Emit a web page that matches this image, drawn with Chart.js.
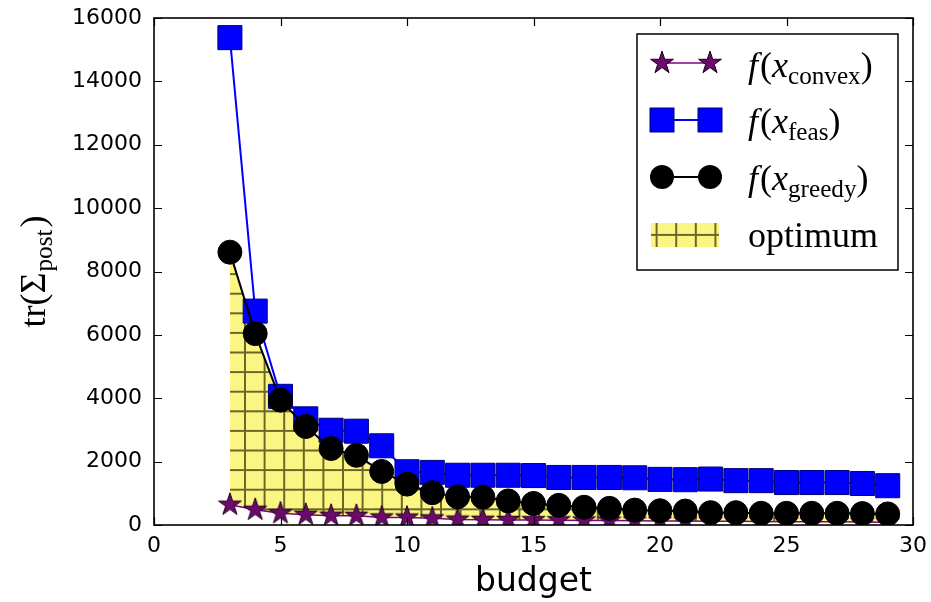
<!DOCTYPE html>
<html><head><meta charset="utf-8">
<script src="https://cdn.jsdelivr.net/npm/chart.js@4/dist/chart.umd.min.js"></script>
<style>html,body{margin:0;padding:0;background:#fff;}#wrap{width:931px;height:602px;}</style>
</head><body><div id="wrap"><canvas id="c" width="931" height="602"></canvas></div>
<script>
// ---- data ----
const budget = [3,4,5,6,7,8,9,10,11,12,13,14,15,16,17,18,19,20,21,22,23,24,25,26,27,28,29];
const convexVals = [640,480,370,325,295,290,240,235,210,170,165,160,155,150,145,140,135,130,125,120,115,110,105,100,100,95,90];
const feasVals = [15380,6750,4060,3350,2990,2960,2500,1680,1660,1570,1570,1570,1560,1500,1500,1500,1490,1440,1430,1450,1400,1400,1340,1340,1340,1310,1240];
const greedyVals = [8610,6040,3940,3110,2415,2200,1690,1290,1020,890,880,760,680,620,560,525,470,450,440,390,390,370,370,370,370,360,350];
const xTicks = [0,5,10,15,20,25,30];
const yTicks = [0,2000,4000,6000,8000,10000,12000,14000,16000];
const legendSubs = ['convex','feas','greedy'];
const optimumLabel = 'optimum';
const xTitle = 'budget';

const canvas = document.getElementById('c');
const ctx0 = canvas.getContext('2d');

function makeStar(R, fill, stroke){
  const s = Math.ceil(2*R+4);
  const c = document.createElement('canvas'); c.width = s; c.height = s;
  const g = c.getContext('2d');
  const cx = s/2, cy = s/2, r = R*0.381966;
  g.beginPath();
  for (let i=0;i<10;i++){
    const a = -Math.PI/2 + i*Math.PI/5;
    const rad = i%2 ? r : R;
    g.lineTo(cx+rad*Math.cos(a), cy+rad*Math.sin(a));
  }
  g.closePath();
  g.fillStyle = fill; g.fill();
  g.lineWidth = 1; g.strokeStyle = stroke; g.stroke();
  return c;
}
const starImg = makeStar(12, '#6c0a6c', '#1a001a');

function makeHatch(){
  const t = document.createElement('canvas'); t.width = 20; t.height = 20;
  const g = t.getContext('2d');
  g.fillStyle = '#fbf583'; g.fillRect(0,0,20,20);
  g.strokeStyle = '#6a6528'; g.lineWidth = 2;
  g.beginPath(); g.moveTo(1,0); g.lineTo(1,20); g.moveTo(0,1); g.lineTo(20,1); g.stroke();
  const p = ctx0.createPattern(t, 'repeat');
  try { p.setTransform(new DOMMatrix().translate(8.8, 18.3).scale(0.98)); } catch(e){}
  return p;
}
const hatch = makeHatch();

const pts = vals => budget.map((b,i)=>({x:b, y:vals[i]}));

function drawParts(ctx, x, y, parts, F){
  let cx = x;
  for (const p of parts){
    const size = p.sub ? F*0.7 : F;
    ctx.font = (p.it ? 'italic ' : '') + size + 'px "Liberation Serif"';
    const dy = p.sub ? F*0.2 : 0;
    ctx.fillText(p.t, cx, y+dy);
    cx += ctx.measureText(p.t).width + (p.sp||0);
  }
  return cx - x;
}
function partsWidth(ctx, parts, F){
  let w = 0;
  for (const p of parts){
    const size = p.sub ? F*0.7 : F;
    ctx.font = (p.it ? 'italic ' : '') + size + 'px "Liberation Serif"';
    w += ctx.measureText(p.t).width + (p.sp||0);
  }
  return w;
}

function drawMarker(ctx, kind, x, y){
  if (kind==='star'){ ctx.drawImage(starImg, x-starImg.width/2, y-starImg.height/2); }
  else if (kind==='rect'){ ctx.fillStyle='#0000ff'; ctx.fillRect(x-12,y-12,24,24); ctx.strokeStyle='#00007a'; ctx.lineWidth=1; ctx.strokeRect(x-12,y-12,24,24); }
  else { ctx.fillStyle='#000'; ctx.beginPath(); ctx.arc(x,y,12,0,Math.PI*2); ctx.fill(); }
}

const decor = {
  id:'decor',
  afterDraw(chart){
    const ctx = chart.ctx;
    const {left,right,top,bottom} = chart.chartArea;
    const xs = chart.scales.x, ys = chart.scales.y;
    ctx.save();
    ctx.strokeStyle = '#000'; ctx.lineWidth = 1.6;
    ctx.strokeRect(left, top, right-left, bottom-top);
    ctx.lineWidth = 1.2;
    ctx.beginPath();
    for (const v of yTicks){ const y = Math.round(ys.getPixelForValue(v))+0.5; ctx.moveTo(left,y); ctx.lineTo(left+8,y); ctx.moveTo(right,y); ctx.lineTo(right-8,y); }
    for (const v of xTicks){ const x = Math.round(xs.getPixelForValue(v))+0.5; ctx.moveTo(x,bottom); ctx.lineTo(x,bottom-8); ctx.moveTo(x,top); ctx.lineTo(x,top+8); }
    ctx.stroke();

    // x title
    ctx.fillStyle = '#000';
    ctx.font = '33px "DejaVu Sans"'; ctx.textAlign = 'center'; ctx.textBaseline = 'alphabetic';
    ctx.fillText(xTitle, (left+right)/2, 591);

    // y title tr(Σ_post)
    ctx.textAlign = 'left';
    const F = 36;
    const yParts = [{t:'tr('},{t:'Σ', sp:1},{t:'post', sub:true, sp:2},{t:')'}];
    const w = partsWidth(ctx, yParts, F);
    ctx.save(); ctx.translate(45, (top+bottom)/2); ctx.rotate(-Math.PI/2);
    drawParts(ctx, -w/2, 0, yParts, F);
    ctx.restore();

    // legend
    const lx = 637, ly = 34, lw = 261, lh = 236;
    ctx.fillStyle = '#fff'; ctx.fillRect(lx, ly, lw, lh);
    ctx.strokeStyle = '#000'; ctx.lineWidth = 1.5; ctx.strokeRect(lx, ly, lw, lh);
    const rowsY = [63, 120, 177];
    const baseY = [76.5, 133, 190];
    const kinds = ['star','rect','circle'];
    const colors = ['#800080','#0000ff','#000'];
    const lw2 = [1.5, 2, 2];
    for (let i=0;i<3;i++){
      ctx.strokeStyle = colors[i]; ctx.lineWidth = lw2[i];
      ctx.beginPath(); ctx.moveTo(662, rowsY[i]); ctx.lineTo(710, rowsY[i]); ctx.stroke();
      drawMarker(ctx, kinds[i], 662, rowsY[i]);
      drawMarker(ctx, kinds[i], 710, rowsY[i]);
      ctx.fillStyle = '#000';
      drawParts(ctx, 748, baseY[i], [{t:'f', it:true, sp:2},{t:'('},{t:'x', it:true},{t:legendSubs[i], sub:true},{t:')'}], 36);
    }
    // optimum patch
    ctx.save();
    ctx.beginPath(); ctx.rect(651, 223, 68, 24); ctx.clip();
    ctx.fillStyle = hatch; ctx.fillRect(651, 223, 68, 24);
    ctx.restore();
    ctx.fillStyle = '#000';
    ctx.font = '36px "Liberation Serif"';
    ctx.fillText(optimumLabel, 748, 246.7);
    ctx.restore();
  }
};

new Chart(canvas, {
  type: 'line',
  data: {
    datasets: [
      { label:'convex', data: pts(convexVals), borderColor:'#800080', borderWidth:1.5, pointStyle: starImg, pointRadius:12, fill:false, tension:0, order:2 },
      { label:'optimum', data: pts(greedyVals), borderColor:'rgba(0,0,0,0)', borderWidth:0, pointRadius:0, backgroundColor: hatch, fill:'-1', tension:0, order:3 },
      { label:'feas', data: pts(feasVals), borderColor:'#0000ff', borderWidth:2, pointStyle:'rect', pointRadius:17, pointBackgroundColor:'#0000ff', pointBorderColor:'#00007a', pointBorderWidth:1, fill:false, tension:0, order:1 },
      { label:'greedy', data: pts(greedyVals), borderColor:'#000', borderWidth:2, pointStyle:'circle', pointRadius:12, pointBackgroundColor:'#000', pointBorderColor:'#000', pointBorderWidth:1, fill:false, tension:0, order:0 }
    ]
  },
  options: {
    responsive:false, animation:false, devicePixelRatio:1,
    layout:{ padding:{ left:0, right:15, top:17, bottom:0 } },
    plugins:{ legend:{display:false}, tooltip:{enabled:false}, filler:{drawTime:'beforeDatasetsDraw'} },
    scales:{
      x:{ type:'linear', min:0, max:30,
          afterBuildTicks: s => { s.ticks = xTicks.map(v=>({value:v})); },
          afterFit: s => { s.height = 77; s.paddingLeft = 0; s.paddingRight = 0; },
          ticks:{ font:{family:'DejaVu Sans', size:22}, color:'#000', padding:8, maxRotation:0, autoSkip:false, callback: v => String(v) },
          grid:{ display:false, drawTicks:false }, border:{ display:false } },
      y:{ type:'linear', min:0, max:16000,
          afterBuildTicks: s => { s.ticks = yTicks.map(v=>({value:v})); },
          afterFit: s => { s.width = 154; s.paddingTop = 0; s.paddingBottom = 0; },
          ticks:{ font:{family:'DejaVu Sans', size:22}, color:'#000', padding:12, autoSkip:false, callback: v => String(v) },
          grid:{ display:false, drawTicks:false }, border:{ display:false } }
    }
  },
  plugins:[decor]
});
</script>
</body></html>
